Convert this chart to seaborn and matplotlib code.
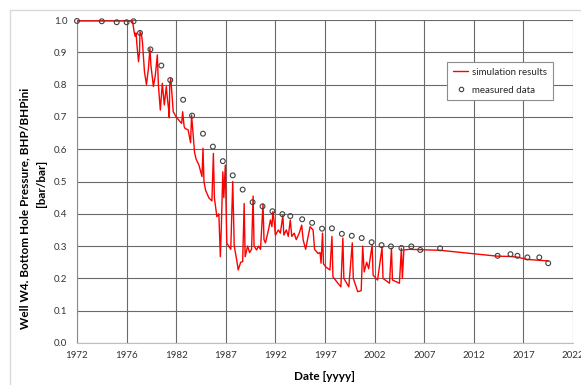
import matplotlib
matplotlib.use("Agg")
import matplotlib.pyplot as plt
import seaborn as sns
import pandas as pd
from matplotlib.lines import Line2D

# ---- data ----
sim_year = [1972.0, 1977.6, 1977.75, 1977.85, 1977.95, 1978.05, 1978.2, 1978.3, 1978.35, 1978.5,
            1978.6, 1978.8, 1979.0, 1979.2, 1979.35, 1979.45, 1979.7, 1979.9, 1980.1, 1980.2,
            1980.4, 1980.6, 1980.8, 1981.0, 1981.1, 1981.25, 1981.3, 1981.35, 1981.45, 1981.55,
            1981.7, 1982.0, 1982.4, 1982.55, 1982.65, 1982.8, 1982.9, 1983.2, 1983.45, 1983.55,
            1983.7, 1983.85, 1984.0, 1984.3, 1984.6, 1984.7, 1984.8, 1984.95, 1985.3, 1985.6,
            1985.75, 1985.85, 1986.1, 1986.3, 1986.45, 1986.55, 1986.7, 1986.8, 1986.95, 1987.1,
            1987.3, 1987.5, 1987.7, 1987.85, 1988.1, 1988.25, 1988.5, 1988.7, 1988.85, 1988.95,
            1989.2, 1989.4, 1989.6, 1989.75, 1989.85, 1990.1, 1990.3, 1990.5, 1990.75, 1990.85,
            1991.0, 1991.3, 1991.5, 1991.65, 1991.75, 1991.9, 1992.0, 1992.3, 1992.5, 1992.75,
            1992.85, 1993.1, 1993.3, 1993.5, 1993.65, 1993.9, 1994.1, 1994.4, 1994.65, 1994.8,
            1995.05, 1995.3, 1995.5, 1995.8, 1995.95, 1996.3, 1996.5, 1996.6, 1996.75, 1996.85,
            1997.1, 1997.5, 1997.7, 1997.8, 1998.3, 1998.6, 1998.8, 1998.9, 1999.4, 1999.75,
            1999.85, 2000.3, 2000.65, 2000.8, 2000.95, 2001.2, 2001.4, 2001.75, 2001.85, 2002.3,
            2002.75, 2002.85, 2003.5, 2003.7, 2003.8, 2004.5, 2004.7, 2004.8, 2004.95, 2005.5,
            2008.6, 2014.3, 2015.5, 2016.4, 2017.3, 2019.5]
sim_val = [0.997, 0.997, 0.965, 0.95, 0.96, 0.92, 0.871, 0.90, 0.964, 0.955,
           0.93, 0.84, 0.80, 0.85, 0.912, 0.86, 0.794, 0.83, 0.892, 0.80,
           0.721, 0.804, 0.737, 0.794, 0.76, 0.72, 0.697, 0.80, 0.819, 0.78,
           0.716, 0.70, 0.685, 0.68, 0.716, 0.67, 0.664, 0.66, 0.62, 0.706,
           0.65, 0.59, 0.57, 0.55, 0.515, 0.603, 0.50, 0.474, 0.449, 0.44,
           0.587, 0.45, 0.391, 0.40, 0.267, 0.36, 0.53, 0.45, 0.551, 0.309,
           0.30, 0.29, 0.50, 0.30, 0.257, 0.226, 0.25, 0.252, 0.432, 0.267,
           0.30, 0.28, 0.29, 0.455, 0.30, 0.288, 0.30, 0.29, 0.43, 0.32,
           0.31, 0.35, 0.381, 0.36, 0.407, 0.37, 0.334, 0.35, 0.34, 0.395,
           0.334, 0.35, 0.33, 0.381, 0.33, 0.34, 0.32, 0.34, 0.365, 0.319,
           0.29, 0.33, 0.36, 0.35, 0.29, 0.277, 0.28, 0.247, 0.34, 0.245,
           0.235, 0.226, 0.33, 0.205, 0.185, 0.174, 0.325, 0.20, 0.174, 0.31,
           0.20, 0.159, 0.162, 0.30, 0.22, 0.25, 0.23, 0.303, 0.21, 0.195,
           0.296, 0.20, 0.185, 0.293, 0.195, 0.185, 0.293, 0.20, 0.288, 0.29,
           0.287, 0.269, 0.268, 0.266, 0.259, 0.254]

meas_year = [1972.0, 1974.5, 1976.0, 1977.0, 1977.7, 1978.35, 1979.4, 1980.5, 1981.4, 1982.7,
             1983.6, 1984.7, 1985.7, 1986.7, 1987.7, 1988.7, 1989.7, 1990.7, 1991.7, 1992.7,
             1993.5, 1994.7, 1995.7, 1996.7, 1997.7, 1998.7, 1999.7, 2000.7, 2001.7, 2002.7,
             2003.65, 2004.7, 2005.7, 2006.6, 2008.6, 2014.4, 2015.7, 2016.4, 2017.4, 2018.6,
             2019.5]
meas_val = [0.997, 0.996, 0.993, 0.993, 0.996, 0.96, 0.909, 0.859, 0.814, 0.753,
            0.704, 0.648, 0.608, 0.563, 0.519, 0.475, 0.436, 0.423, 0.408, 0.399,
            0.393, 0.383, 0.372, 0.354, 0.355, 0.338, 0.332, 0.325, 0.312, 0.303,
            0.299, 0.294, 0.299, 0.288, 0.293, 0.27, 0.275, 0.27, 0.265, 0.265,
            0.247]

x_ticks = [1972, 1977, 1982, 1987, 1992, 1997, 2002, 2007, 2012, 2017, 2022]
x_tick_labels = ['1972', '1976', '1982', '1987', '1992', '1997', '2002', '2007', '2012', '2017', '2022']
y_ticks = [0.0, 0.1, 0.2, 0.3, 0.4, 0.5, 0.6, 0.7, 0.8, 0.9, 1.0]

sim_df = pd.DataFrame({'year': sim_year, 'val': sim_val})
meas_df = pd.DataFrame({'year': meas_year, 'val': meas_val})

sns.set_theme(style="white")
plt.rcParams['font.family'] = ['Lato', 'DejaVu Sans']

W, H = 581, 385
fig = plt.figure(figsize=(W / 100, H / 100), dpi=100)
fig.patch.set_facecolor('white')

# outer chart border (light grey)
fig.add_artist(Line2D([10 / W, 1.0], [1 - 10 / H, 1 - 10 / H], transform=fig.transFigure,
                      color='#d9d9d9', lw=1.0))
fig.add_artist(Line2D([10 / W, 10 / W], [0.0, 1 - 10 / H], transform=fig.transFigure,
                      color='#d9d9d9', lw=1.0))

ax = fig.add_axes([77 / W, 1 - 343 / H, (573 - 77) / W, (343 - 20) / H])

sns.lineplot(data=sim_df, x='year', y='val', ax=ax, color='#ff0000', lw=1.0,
             estimator=None, sort=False, label='simulation results', zorder=3)
sns.scatterplot(data=meas_df, x='year', y='val', ax=ax, marker='o', s=12,
                facecolor='none', edgecolor='#404040', linewidth=0.8,
                label='measured data', zorder=4, clip_on=False)

ax.set_xlim(1972, 2022)
ax.set_ylim(0, 1.0)
ax.set_xticks(x_ticks)
ax.set_xticklabels(x_tick_labels)
ax.set_yticks(y_ticks)
ax.set_yticklabels([f"{v:.1f}" for v in y_ticks])
ax.tick_params(axis='both', length=0, labelsize=7, colors='#333333')
ax.tick_params(axis='x', pad=6)
ax.tick_params(axis='y', pad=7)

ax.grid(True, color='#6a6a6a', lw=0.8)
ax.set_axisbelow(True)
for s in ['top', 'right']:
    ax.spines[s].set_visible(False)
ax.spines['left'].set_color('#8c8c8c')
ax.spines['bottom'].set_color('#bfbfbf')
ax.spines['left'].set_linewidth(0.8)
ax.spines['bottom'].set_linewidth(0.8)

ax.set_xlabel('')
ax.set_ylabel('')

fig.text(325 / W, 1 - 377 / H, 'Date [yyyy]', ha='center', va='center',
         fontsize=8.5, fontweight='bold', color='#000000')
fig.text(25 / W, 1 - 208 / H, 'Well W4. Bottom Hole Pressure, BHP/BHPini', rotation=90,
         ha='center', va='center', fontsize=8.5, fontweight='bold', color='#000000')
fig.text(42 / W, 1 - 183 / H, '[bar/bar]', rotation=90,
         ha='center', va='center', fontsize=8.5, fontweight='bold', color='#000000')

handles = [Line2D([], [], color='#ff0000', lw=1.0),
           Line2D([], [], marker='o', ls='none', markerfacecolor='none',
                  markeredgecolor='#404040', markersize=3.2, markeredgewidth=0.8)]
leg = ax.legend(handles, ['simulation results', 'measured data'],
                loc='upper left', bbox_to_anchor=((447 - 77) / 496, (343 - 62) / 323),
                frameon=True, fancybox=False, fontsize=7, handlelength=1.6,
                handletextpad=0.4, borderpad=0.6, labelspacing=0.9, borderaxespad=0)
leg.get_frame().set_edgecolor('#8c8c8c')
leg.get_frame().set_linewidth(0.8)
leg.get_frame().set_facecolor('white')
leg.get_frame().set_alpha(1.0)

fig.savefig('out.png', dpi=100, facecolor='white')
